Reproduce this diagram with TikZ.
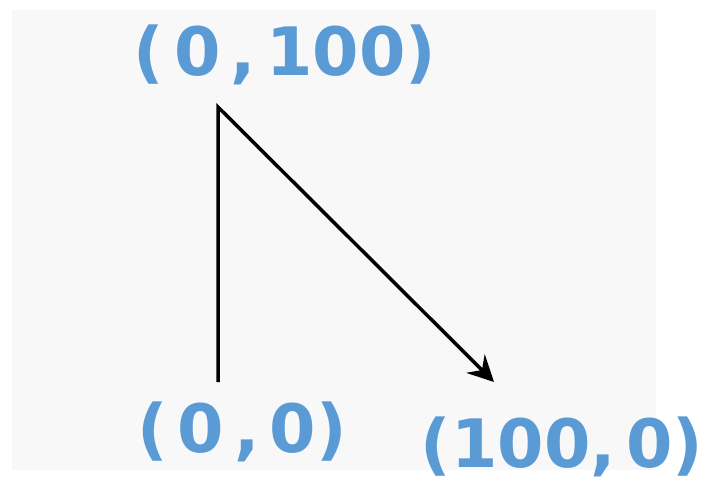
\documentclass[tikz,border=0pt]{standalone}
\usepackage{fontspec}
\setmainfont{DejaVu Sans}
\usetikzlibrary{arrows.meta}
\definecolor{lblblue}{HTML}{5B9BD5}
\definecolor{bggray}{HTML}{F8F8F8}
\tikzset{
  lbl/.style={text=lblblue, font=\fontsize{67}{67}\selectfont\bfseries, inner sep=0pt, anchor=center},
  edge/.style={line width=3.5bp, black},
}
\newcommand{\gp}{\kern 10bp}
\begin{document}
\begin{tikzpicture}[x=1bp,y=-1bp]
\useasboundingbox (0,0) rectangle (707,482);
\fill[white] (0,0) rectangle (707,482);
\fill[bggray] (12,10) rectangle (656,470);
\coordinate (top) at (218,107);
\coordinate (orig) at (218,382);
\coordinate (right) at (494,382);
\draw[edge, -{Stealth[length=26bp,width=26bp,inset=9bp]}] (orig) -- (top) -- (right);
\node[lbl] (ltop) at (285,55) {(\gp0\gp,\gp100)};
\node[lbl] (lorig) at (242,432) {(\gp0\gp,\gp0)};
\node[lbl] (lright) at (562,447) {(100,\gp0)};
\end{tikzpicture}
\end{document}
